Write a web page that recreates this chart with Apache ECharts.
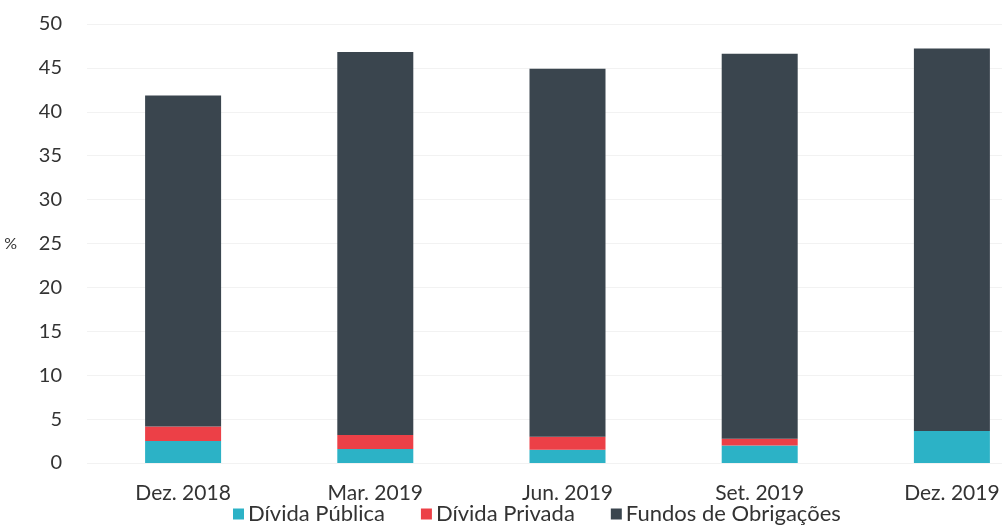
<!DOCTYPE html>
<html>
<head>
<meta charset="utf-8">
<script src="https://cdn.jsdelivr.net/npm/echarts@6/dist/echarts.min.js"></script>
<style>
html, body { margin: 0; padding: 0; background: #fff; }
#chart { width: 1002px; height: 529px; }
</style>
</head>
<body>
<div id="chart"></div>
<script>
const categories = ["Dez. 2018", "Mar. 2019", "Jun. 2019", "Set. 2019", "Dez. 2019"];
const dividaPublica = [2.5, 1.6, 1.5, 2.0, 3.65];
const dividaPrivada = [1.65, 1.6, 1.5, 0.75, 0];
const fundosObrigacoes = [37.7, 43.6, 41.9, 43.85, 43.55];

const font = "Lato, 'Open Sans', sans-serif";
var chart = echarts.init(document.getElementById("chart"));

chart.setOption({
    animation: false,
    backgroundColor: "#ffffff",
    textStyle: { fontFamily: font },
    grid: {
        left: 87,
        right: -46,
        top: 24,
        bottom: 66,
        outerBoundsMode: "none",
        containLabel: false
    },
    legend: {
        left: 233,
        top: 503,
        padding: 0,
        itemWidth: 11,
        itemHeight: 11,
        itemGap: 36,
        icon: "rect",
        textStyle: { fontSize: 22, color: "#333", fontFamily: font, padding: [0, 0, 0, -1] },
        data: ["Dívida Pública", "Dívida Privada", "Fundos de Obrigações"]
    },
    xAxis: {
        type: "category",
        data: categories,
        axisLine: { show: false },
        axisTick: { show: false },
        axisLabel: { fontSize: 21, color: "#333", margin: 20, fontFamily: font }
    },
    yAxis: {
        type: "value",
        min: 0,
        max: 50,
        interval: 5,
        name: "%",
        nameLocation: "middle",
        nameRotate: 0,
        nameGap: 70,
        nameTextStyle: { fontSize: 16, color: "#333", fontFamily: font },
        axisLine: { show: false },
        axisTick: { show: false },
        axisLabel: { fontSize: 20, color: "#333", margin: 25, fontFamily: font },
        splitLine: { lineStyle: { color: "#f2f2f2", width: 1 } }
    },
    series: [{
        name: "Dívida Pública",
        type: "bar",
        stack: "total",
        barWidth: 76,
        data: dividaPublica,
        itemStyle: { color: "#2cb2c6" }
    }, {
        name: "Dívida Privada",
        type: "bar",
        stack: "total",
        data: dividaPrivada,
        itemStyle: { color: "#ec4047" }
    }, {
        name: "Fundos de Obrigações",
        type: "bar",
        stack: "total",
        data: fundosObrigacoes,
        itemStyle: { color: "#3a454e" }
    }]
});
</script>
</body>
</html>
